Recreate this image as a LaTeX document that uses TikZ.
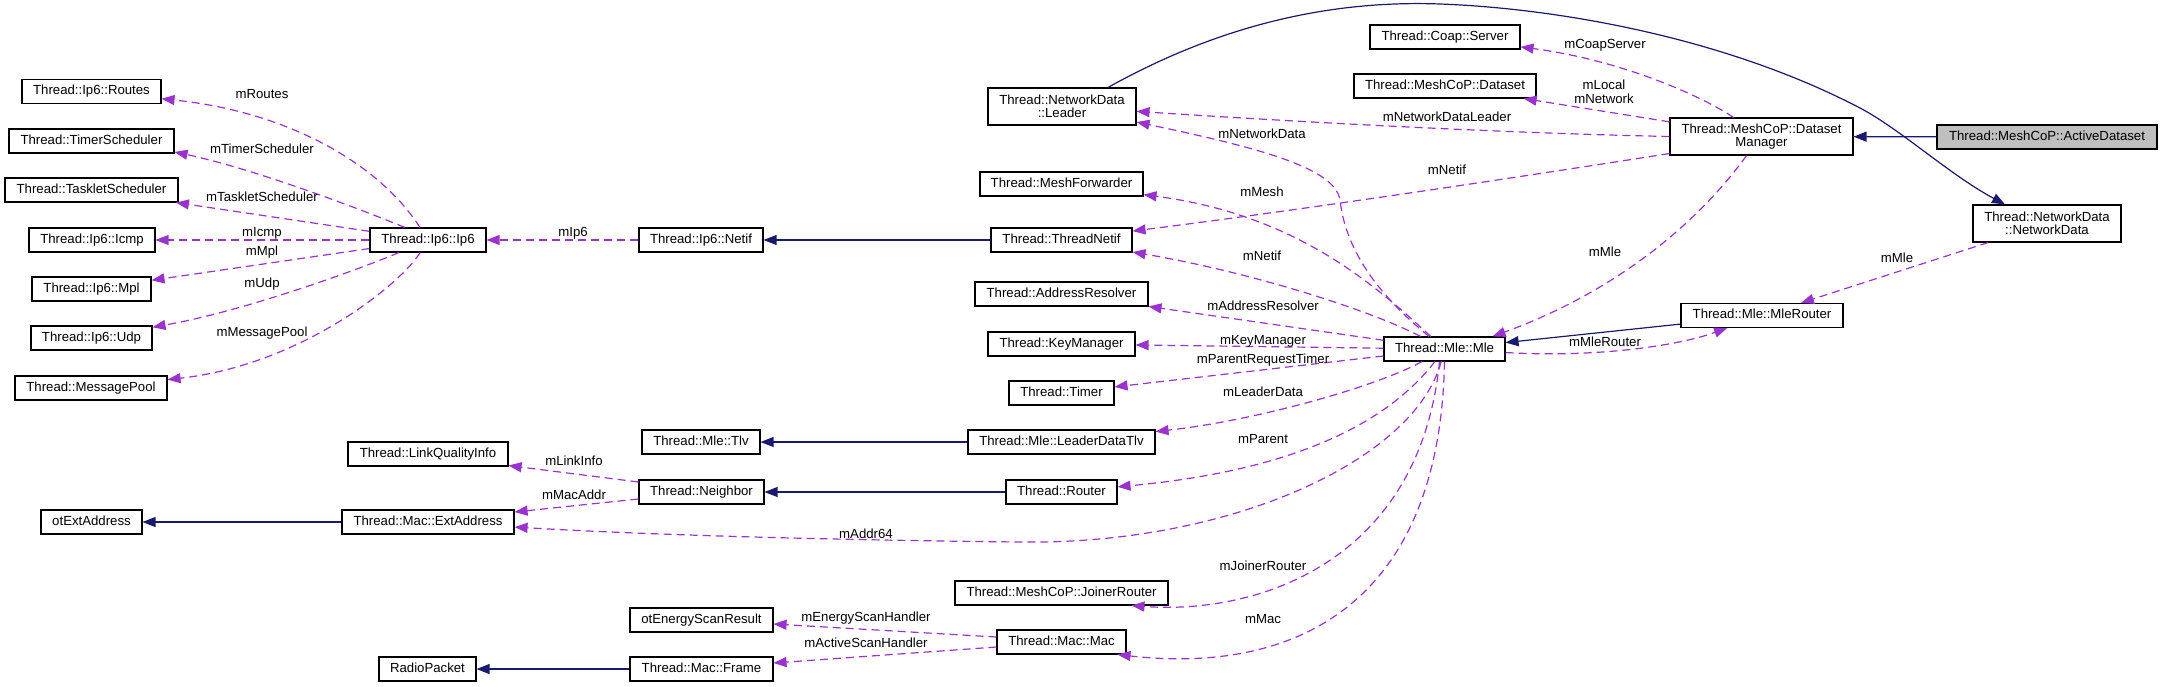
\documentclass[tikz,border=0pt]{standalone}
\usepackage{fontspec}
\setmainfont{Liberation Sans}
\usetikzlibrary{arrows.meta,calc}
\definecolor{purp}{HTML}{9A32CD}
\definecolor{navyb}{HTML}{191970}
\definecolor{grayfill}{HTML}{BFBFBF}
\begin{document}
\begin{tikzpicture}[x=1pt,y=-1pt,
  font=\fontsize{13.2}{13.5}\selectfont,
  box/.style={draw=black,line width=1.1pt,fill=white,inner sep=0pt,minimum height=24pt,text height=9.6pt,text depth=2.8pt},
  box2/.style={draw=black,line width=1.1pt,fill=white,inner sep=0pt,minimum height=37pt,align=center},
  lbl/.style={inner sep=0pt,text height=9.6pt,text depth=2.8pt},
  memb/.style={draw=purp,line width=1.2pt,dash pattern=on 8pt off 5pt,-{Triangle[length=13pt,width=10pt]}},
  inher/.style={draw=navyb,line width=1.2pt,-{Triangle[length=13pt,width=10pt]}}]
\path[use as bounding box] (0,0) rectangle (2162,687);

% column 1
\node[box,minimum width=139pt] (routes) at (91.5,91.5) {Thread::Ip6::Routes};
\node[box,minimum width=165pt] (timersch) at (91.5,141) {Thread::TimerScheduler};
\node[box,minimum width=173pt] (tasklet) at (91.5,190) {Thread::TaskletScheduler};
\node[box,minimum width=126pt] (icmp) at (92,240) {Thread::Ip6::Icmp};
\node[box,minimum width=119pt] (mpl) at (91.5,289) {Thread::Ip6::Mpl};
\node[box,minimum width=121pt] (udp) at (91.5,338) {Thread::Ip6::Udp};
\node[box,minimum width=152pt] (msgpool) at (91,388) {Thread::MessagePool};
\node[box,minimum width=101pt] (otext) at (91.5,522) {otExtAddress};
% column 2
\node[box,minimum width=116pt] (ip6) at (428,240) {Thread::Ip6::Ip6};
\node[box,minimum width=160pt] (linkq) at (428,454) {Thread::LinkQualityInfo};
\node[box,minimum width=172pt] (extaddr) at (428,522) {Thread::Mac::ExtAddress};
\node[box,minimum width=97pt] (radiopacket) at (427.5,669) {RadioPacket};
% column 3
\node[box,minimum width=124pt] (netif) at (701,240) {Thread::Ip6::Netif};
\node[box,minimum width=118pt] (tlv) at (701,442) {Thread::Mle::Tlv};
\node[box,minimum width=125pt] (neighbor) at (701.5,492) {Thread::Neighbor};
\node[box,minimum width=143pt] (otenergy) at (701.5,620) {otEnergyScanResult};
\node[box,minimum width=143pt] (frame) at (701.5,669) {Thread::Mac::Frame};
% column 4
\node[box2,minimum width=148pt] (leader) at (1062,106.5) {Thread::NetworkData\\::Leader};
\node[box,minimum width=163pt] (meshfwd) at (1061.5,184) {Thread::MeshForwarder};
\node[box,minimum width=141pt] (threadnetif) at (1061.5,240) {Thread::ThreadNetif};
\node[box,minimum width=173pt] (addrres) at (1061.5,294) {Thread::AddressResolver};
\node[box,minimum width=147pt] (keymgr) at (1061.5,344) {Thread::KeyManager};
\node[box,minimum width=105pt] (timer) at (1061.5,393) {Thread::Timer};
\node[box,minimum width=187pt] (leaderdatatlv) at (1061.5,442) {Thread::Mle::LeaderDataTlv};
\node[box,minimum width=111pt] (router) at (1061.5,492) {Thread::Router};
\node[box,minimum width=213pt] (joinerrouter) at (1061.5,593) {Thread::MeshCoP::JoinerRouter};
\node[box,minimum width=129pt] (macmac) at (1061.5,642) {Thread::Mac::Mac};
% column 5
\node[box,minimum width=150pt] (coap) at (1445,37) {Thread::Coap::Server};
\node[box,minimum width=182pt] (dataset) at (1445,86) {Thread::MeshCoP::Dataset};
\node[box,minimum width=121pt] (mle) at (1444.5,349) {Thread::Mle::Mle};
% column 6
\node[box2,minimum width=183pt] (dsmgr) at (1761.5,136.5) {Thread::MeshCoP::Dataset\\Manager};
\node[box,minimum width=162pt] (mlerouter) at (1762,315.5) {Thread::Mle::MleRouter};
% column 7
\node[box,minimum width=220pt,fill=grayfill] (active) at (2047,137) {Thread::MeshCoP::ActiveDataset};
\node[box2,minimum width=148pt] (nwdata) at (2047,223.5) {Thread::NetworkData\\::NetworkData};

% ---- usage edges from Ip6
\draw[memb] (ip6) .. controls (380,165) and (290,112) .. (routes);
\draw[memb] ($(ip6.north)+(-23,0)$) .. controls (350,205) and (250,168) .. ($(timersch.east)+(0,11)$);
\draw[memb] (ip6) -- (tasklet);
\draw[memb] (ip6) -- (icmp);
\draw[memb] (ip6) -- (mpl);
\draw[memb] (ip6) .. controls (370,265) and (250,310) .. (udp);
\draw[memb] (ip6) .. controls (400,285) and (300,365) .. (msgpool);
\draw[memb] (netif) -- (ip6);

% ---- inheritance
\draw[inher] (threadnetif) -- (netif);
\draw[inher] (leaderdatatlv) -- (tlv);
\draw[inher] (router) -- (neighbor);
\draw[inher] (extaddr) -- (otext);
\draw[inher] (frame) -- (radiopacket);
\draw[inher] (active) -- (dsmgr);
\draw[inher] (mlerouter) -- (mle);
\draw[inher] ($(leader.north)+(46,0)$) .. controls (1220,25) and (1330,0) .. (1440,4)
   .. controls (1550,8) and (1720,35) .. (1860,108)
   .. controls (1900,129) and (1950,175) .. ($(nwdata.north)+(-42,0)$);

% ---- dataset manager edges
\draw[memb] (dsmgr.west) .. controls (1500,133) and (1300,122) .. (leader);
\draw[memb] ($(dsmgr.south west)+(0,-2)$) .. controls (1500,180) and (1300,210) .. (threadnetif);
\draw[memb] ($(dsmgr.north)+(-28,0)$) .. controls (1700,95) and (1620,60) .. (coap);
\draw[memb] (dsmgr) -- (dataset);
\draw[memb] ($(dsmgr.south)+(-15,0)$) .. controls (1700,220) and (1620,290) .. ($(mle.north east)+(-13,0)$);
\draw[memb] (nwdata) -- (mlerouter);
\draw[memb] (mle) .. controls (1600,358) and (1680,345) .. (mlerouter);

% ---- Mle edges
\draw[memb] (mle) .. controls (1372,290) and (1345,245) .. (1340,200)
   .. controls (1335,168) and (1260,148) .. (leader);
\draw[memb] (mle) .. controls (1380,290) and (1300,215) .. (meshfwd);
\draw[memb] (mle) .. controls (1370,310) and (1250,272) .. (threadnetif);
\draw[memb] (mle) -- (addrres);
\draw[memb] (mle) -- (keymgr);
\draw[memb] (mle) -- (timer);
\draw[memb] (mle) .. controls (1380,385) and (1260,420) .. (leaderdatatlv);
\draw[memb] (mle) .. controls (1390,420) and (1300,470) .. (router);
\draw[memb] (mle) .. controls (1415,460) and (1230,545) .. (1020,542)
   .. controls (830,540) and (650,535) .. (extaddr);
\draw[memb] ($(mle.south)+(-5,0)$) .. controls (1420,560) and (1260,615) .. ($(joinerrouter.south)+(70,0)$);
\draw[memb] ($(mle.south)+(0,0)$) .. controls (1440,600) and (1300,675) .. ($(macmac.south)+(56,0)$);

% ---- Neighbor and Mac edges
\draw[memb] ($(neighbor.west)+(0,-10)$) -- ($(linkq.south east)+(0,-1)$);
\draw[memb] ($(neighbor.west)+(0,7)$) -- ($(extaddr.east)+(0,-10)$);
\draw[memb] ($(macmac.west)+(0,-5)$) -- ($(otenergy.east)+(0,4)$);
\draw[memb] ($(macmac.west)+(0,5)$) -- ($(frame.east)+(0,-6)$);

% ---- labels
\node[lbl] (l1) at (262,95) {mRoutes};
\node[lbl] (l2) at (262,150) {mTimerScheduler};
\node[lbl] (l3) at (262,198) {mTaskletScheduler};
\node[lbl] (l4) at (262,233) {mIcmp};
\node[lbl] (l5) at (262,252) {mMpl};
\node[lbl] (l6) at (262,284) {mUdp};
\node[lbl] (l7) at (262,333) {mMessagePool};
\node[lbl] (l8) at (573,233) {mIp6};
\node[lbl] (l9) at (1262,135) {mNetworkData};
\node[lbl] (l10) at (1447,118) {mNetworkDataLeader};
\node[lbl] (l11) at (1262,193) {mMesh};
\node[lbl] (l12) at (1447,171) {mNetif};
\node[lbl] (l13) at (1262,257) {mNetif};
\node[lbl] (l14) at (1263,307) {mAddressResolver};
\node[lbl] (l15) at (1263,341) {mKeyManager};
\node[lbl] (l16) at (1263,360) {mParentRequestTimer};
\node[lbl] (l17) at (1263,393) {mLeaderData};
\node[lbl] (l18) at (1263,440) {mParent};
\node[lbl] (l19) at (866,535) {mAddr64};
\node[lbl] (l20) at (1263,567) {mJoinerRouter};
\node[lbl] (l21) at (1263,620) {mMac};
\node[lbl] (l22) at (574,462) {mLinkInfo};
\node[lbl] (l23) at (574,496) {mMacAddr};
\node[lbl] (l24) at (866,618) {mEnergyScanHandler};
\node[lbl] (l25) at (866,644) {mActiveScanHandler};
\node[lbl] (l26) at (1605,45) {mCoapServer};
\node[inner sep=0pt,align=center] (l27) at (1604,92) {mLocal\\mNetwork};
\node[lbl] (l28) at (1605,253) {mMle};
\node[lbl] (l29) at (1897,259) {mMle};
\node[lbl] (l30) at (1605,343) {mMleRouter};
\end{tikzpicture}
\end{document}
